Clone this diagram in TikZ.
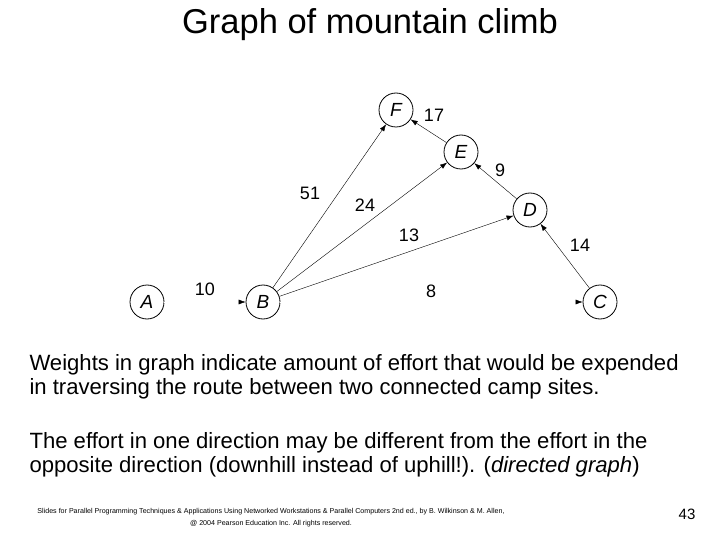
\documentclass[tikz,border=0pt]{standalone}
\usepackage{fontspec}
\setmainfont{Liberation Sans}
\usetikzlibrary{arrows.meta}
\begin{document}
\begin{tikzpicture}[x=1pt,y=-1pt,
  vert/.style={circle,draw,thick,minimum size=34pt,inner sep=0pt,font=\fontsize{19}{19}\selectfont\itshape},
  wt/.style={font=\fontsize{18}{18}\selectfont},
  edge/.style={-{Latex[length=7pt,width=5pt]},thin},
  faint/.style={draw=white,-{Latex[length=7pt,width=5pt,color=black]}},
  body/.style={anchor=west,font=\fontsize{22.1}{24.5}\selectfont,align=left}]
\useasboundingbox (0,0) rectangle (720,540);
\node (title) at (370,25) {\fontsize{34.5}{34.5}\selectfont Graph of mountain climb};
\node[vert] (A) at (147,302) {A};
\node[vert] (B) at (263,302) {B};
\node[vert] (C) at (600,302) {C};
\node[vert] (D) at (530,210) {D};
\node[vert] (E) at (461,152) {E};
\node[vert] (F) at (396,110) {F};
\draw[faint] (A) -- (B);
\draw[faint] (B) -- (C);
\draw[edge] (B) -- (F);
\draw[edge] (B) -- (E);
\draw[edge] (B) -- (D);
\draw[edge] (C) -- (D);
\draw[edge] (D) -- (E);
\draw[edge] (E) -- (F);
\node[wt] (w17) at (434,115) {17};
\node[wt] (w9) at (500,170) {9};
\node[wt] (w51) at (310,193) {51};
\node[wt] (w24) at (365,205) {24};
\node[wt] (w13) at (409,235) {13};
\node[wt] (w14) at (580,245) {14};
\node[wt] (w10) at (205,289) {10};
\node[wt] (w8) at (431,291) {8};
\node[body] (t1) at (26,377) {Weights in graph indicate amount of effort that would be expended\\in traversing the route between two connected camp sites.};
\node[body] (t2) at (26,455) {The effort in one direction may be different from the effort in the\\opposite direction (downhill instead of uphill!). (\textit{directed graph})};
\node[font=\fontsize{7.1}{12}\selectfont,align=center] (foot) at (271,518) {Slides for Parallel Programming Techniques \& Applications Using Networked Workstations \& Parallel Computers 2nd ed., by B. Wilkinson \& M. Allen,\\@ 2004 Pearson Education Inc. All rights reserved.};
\node[font=\fontsize{15}{15}\selectfont] (pg) at (687,514) {43};
\end{tikzpicture}
\end{document}
